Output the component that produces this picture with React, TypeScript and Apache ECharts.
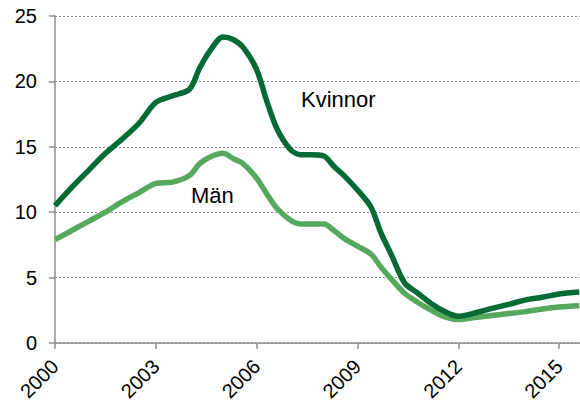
import React, { useEffect, useRef } from "react";
import * as echarts from "echarts";

const years = [
  2000, 2000.5, 2001, 2001.5, 2002, 2002.5, 2003, 2003.5, 2004, 2004.3, 2004.6,
  2005, 2005.3, 2005.6, 2006, 2006.3, 2006.6, 2007, 2007.3, 2007.6, 2008, 2008.3,
  2008.6, 2009, 2009.4, 2009.7, 2010, 2010.4, 2010.8, 2011.2, 2011.6, 2012, 2012.5,
  2013, 2013.5, 2014, 2014.5, 2015, 2015.6,
];

const kvinnor = [
  10.5, 11.9, 13.2, 14.5, 15.6, 16.8, 18.4, 18.9, 19.4, 21.0, 22.3,
  23.4, 23.2, 22.6, 20.9, 18.5, 16.4, 14.8, 14.4, 14.4, 14.3, 13.5,
  12.8, 11.7, 10.4, 8.4, 6.8, 4.6, 3.8, 3.0, 2.4, 2.05, 2.3,
  2.65, 2.95, 3.3, 3.5, 3.75, 3.9,
];

const man = [
  7.9, 8.6, 9.3, 10.0, 10.8, 11.5, 12.2, 12.3, 12.8, 13.7, 14.2,
  14.5, 14.1, 13.7, 12.6, 11.4, 10.3, 9.4, 9.1, 9.1, 9.1, 8.6,
  8.0, 7.4, 6.8, 5.8, 4.9, 3.8, 3.1, 2.5, 2.0, 1.8, 1.95,
  2.1, 2.25, 2.4, 2.6, 2.75, 2.85,
];

const seriesNames = ["Kvinnor", "Män"];
const yTicks = [0, 5, 10, 15, 20, 25];

export default function App() {
  const ref = useRef<HTMLDivElement>(null);
  useEffect(() => {
    if (!ref.current) return;
    const chart = echarts.init(ref.current, null, { renderer: "svg" });
    const font = "'Liberation Sans', Arial, sans-serif";
    chart.setOption({
      animation: false,
      grid: {
        left: 55,
        top: 16,
        right: 0,
        bottom: 58,
        containLabel: false,
        outerBoundsMode: "none",
      },
      xAxis: {
        type: "value",
        min: 2000,
        max: 2015.62,
        interval: 3,
        axisLine: { show: true, lineStyle: { color: "#8c8c8c", width: 1.5 } },
        axisTick: { show: true, length: 6, lineStyle: { color: "#8c8c8c", width: 1.5 } },
        splitLine: { show: false },
        axisLabel: {
          rotate: 45,
          margin: 20,
          fontSize: 20,
          color: "#000",
          fontFamily: font,
          showMaxLabel: false,
          formatter: (v: number) => (Number.isInteger(v) ? String(v) : ""),
        },
      },
      yAxis: {
        type: "value",
        min: yTicks[0],
        max: yTicks[yTicks.length - 1],
        interval: 5,
        axisLine: { show: true, lineStyle: { color: "#8c8c8c", width: 1.5 } },
        axisTick: { show: true, length: 6, lineStyle: { color: "#8c8c8c", width: 1.5 } },
        splitLine: { show: true, lineStyle: { color: "#8c8c8c", type: [2, 2], width: 1 } },
        axisLabel: { margin: 18, fontSize: 20, color: "#000", fontFamily: font },
      },
      series: [
        {
          name: seriesNames[0],
          type: "line",
          data: years.map((y, i) => [y, kvinnor[i]]),
          showSymbol: false,
          smooth: 0.3,
          lineStyle: { color: "#006B35", width: 5.5 },
          z: 3,
        },
        {
          name: seriesNames[1],
          type: "line",
          data: years.map((y, i) => [y, man[i]]),
          showSymbol: false,
          smooth: 0.3,
          lineStyle: { color: "#55A85C", width: 5.5 },
          z: 2,
        },
      ],
      graphic: [
        {
          type: "text",
          left: 301,
          top: 88,
          style: { text: seriesNames[0], fontSize: 22, fill: "#000", fontFamily: font },
        },
        {
          type: "text",
          left: 191,
          top: 184,
          style: { text: seriesNames[1], fontSize: 22, fill: "#000", fontFamily: font },
        },
      ],
    });
    return () => chart.dispose();
  }, []);
  return (
    <div
      ref={ref}
      style={{ width: 580, height: 401, position: "absolute", left: 0, top: 0 }}
    />
  );
}
